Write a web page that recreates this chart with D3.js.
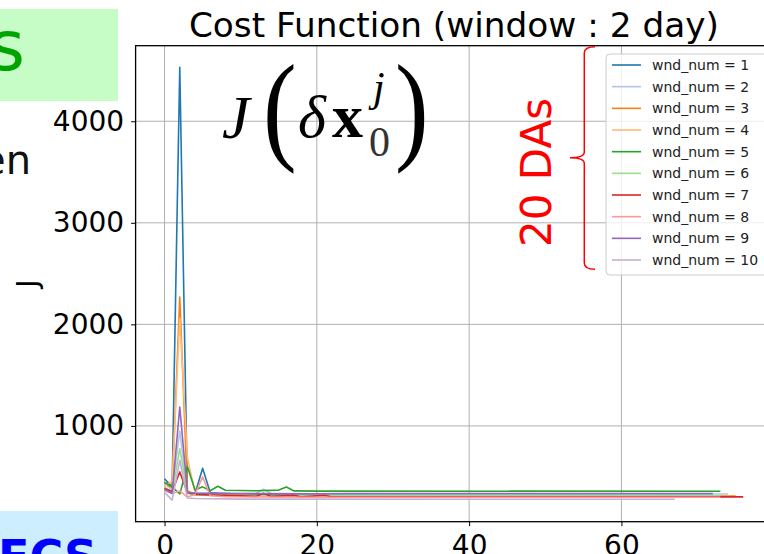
<!DOCTYPE html>
<html>
<head>
<meta charset="utf-8">
<script src="https://cdn.jsdelivr.net/npm/d3@7"></script>
<style>
    body { margin: 0; background: #fff; overflow: hidden; }
    svg { display: block; font-family: 'DejaVu Sans', sans-serif; }
</style>
</head>
<body>
<svg id="chart" width="764" height="554"></svg>
<script>
// cost J per outer-loop iteration, [iteration, J]
const wnd1 = [[0, 480], [1, 400], [2, 4531], [3, 340], [4, 330], [5, 583], [6, 345], [7, 338], [10, 330], [15, 325], [22, 321], [72, 320]]
const wnd2 = [[0, 430], [1, 370], [2, 950], [3, 345], [4, 338], [6, 335], [12, 335], [13, 376], [14, 334], [20, 331], [74, 330]]
const wnd3 = [[0, 440], [1, 390], [2, 2270], [3, 360], [4, 330], [6, 322], [10, 316], [20, 311], [75, 310]]
const wnd4 = [[0, 410], [1, 455], [2, 2060], [3, 690], [4, 345], [5, 325], [8, 312], [20, 306], [73, 305]]
const wnd5 = [[0, 445], [1, 400], [2, 330], [3, 600], [4, 370], [5, 400], [6, 362], [7, 406], [8, 366], [12, 362], [15, 368], [16, 399], [17, 360], [20, 358], [73, 357]]
const wnd6 = [[0, 400], [1, 345], [2, 777], [3, 335], [4, 320], [6, 316], [10, 313], [73, 312]]
const wnd7 = [[0, 385], [1, 355], [2, 547], [3, 345], [4, 325], [8, 316], [12, 306], [13, 337], [14, 306], [17, 316], [18, 301], [21, 317], [22, 301], [76, 301]]
const wnd8 = [[0, 365], [1, 335], [2, 360], [3, 300], [4, 325], [5, 498], [6, 312], [8, 302], [20, 298], [73, 298]]
const wnd9 = [[0, 375], [1, 335], [2, 1187], [3, 345], [4, 338], [8, 335], [20, 332], [24, 334], [72, 334]]
const wnd10 = [[0, 345], [1, 270], [2, 662], [3, 290], [4, 285], [10, 279], [67, 278]]

const seriesData = [wnd1, wnd2, wnd3, wnd4, wnd5, wnd6, wnd7, wnd8, wnd9, wnd10]
const seriesNames = seriesData.map((d, i) => `wnd_num = ${i + 1}`)
const xTicks = [0, 20, 40, 60]
const yTicks = [1000, 2000, 3000, 4000]

const colors = ['#1f77b4', '#aec7e8', '#ff7f0e', '#ffbb78', '#2ca02c',
    '#98df8a', '#d62728', '#ff9896', '#9467bd', '#c5b0d5']

const box = { left: 135.6, right: 772.2, top: 45.7, bottom: 521.7 }

const svg = d3.select('#chart')

// slide leftovers around the figure
svg.append('rect').attr('x', 0).attr('y', 9).attr('width', 118).attr('height', 92).attr('fill', '#c6fcc6')
svg.append('text').attr('x', -11).attr('y', 70).attr('font-size', 69).attr('fill', '#00a400').text('s')
svg.append('text').attr('x', 31).attr('y', 174).attr('font-size', 40).attr('text-anchor', 'end').attr('fill', '#111').text('en')
svg.append('rect').attr('x', 0).attr('y', 511).attr('width', 118).attr('height', 43).attr('fill', '#cdeeff')
svg.append('text').attr('x', -2).attr('y', 573).attr('font-size', 46).attr('font-weight', 'bold').attr('fill', '#0000ff').text('ECS')

// matplotlib style 5% margins
const allX = seriesData.flat().map(d => d[0])
const allY = seriesData.flat().map(d => d[1])
const pad = (lo, hi) => [lo - (hi - lo) * 0.05, hi + (hi - lo) * 0.05]

const x = d3.scaleLinear().domain(pad(d3.min(allX), d3.max(allX))).range([box.left, box.right])
const y = d3.scaleLinear().domain(pad(d3.min(allY), d3.max(allY))).range([box.bottom, box.top])

const g = svg.append('g')

// grid
g.selectAll('.vgrid').data(xTicks).join('line')
    .attr('x1', d => x(d)).attr('x2', d => x(d))
    .attr('y1', box.top).attr('y2', box.bottom)
    .attr('stroke', '#b0b0b0').attr('stroke-width', 1)
g.selectAll('.hgrid').data(yTicks).join('line')
    .attr('x1', box.left).attr('x2', box.right)
    .attr('y1', d => y(d)).attr('y2', d => y(d))
    .attr('stroke', '#b0b0b0').attr('stroke-width', 1)

// lines
const line = d3.line().x(d => x(d[0])).y(d => y(d[1]))
g.selectAll('.series').data(seriesData).join('path')
    .attr('d', line)
    .attr('fill', 'none')
    .attr('stroke', (d, i) => colors[i])
    .attr('stroke-width', 1.6)
    .attr('stroke-linejoin', 'round')

// axes
const xAxis = d3.axisBottom(x).tickValues(xTicks).tickSize(4.5).tickPadding(9).tickFormat(d3.format('d'))
const yAxis = d3.axisLeft(y).tickValues(yTicks).tickSize(4.5).tickPadding(7).tickFormat(d3.format('d'))

g.append('g').attr('transform', `translate(0, ${box.bottom})`).call(xAxis)
    .call(a => a.select('.domain').remove())
    .call(a => a.selectAll('text').attr('font-size', 28).attr('fill', '#000').attr('font-family', 'DejaVu Sans'))
g.append('g').attr('transform', `translate(${box.left}, 0)`).call(yAxis)
    .call(a => a.select('.domain').remove())
    .call(a => a.selectAll('text').attr('font-size', 28).attr('fill', '#000').attr('font-family', 'DejaVu Sans'))

g.append('rect')
    .attr('x', box.left).attr('y', box.top)
    .attr('width', box.right - box.left).attr('height', box.bottom - box.top)
    .attr('fill', 'none').attr('stroke', '#000').attr('stroke-width', 1.3)

// title and y label
svg.append('text')
    .attr('x', (box.left + box.right) / 2).attr('y', 37.3)
    .attr('text-anchor', 'middle').attr('font-size', 34.3)
    .text('Cost Function (window : 2 day)')
svg.append('text')
    .attr('transform', `translate(37.4, ${(box.top + box.bottom) / 2}) rotate(-90)`)
    .attr('text-anchor', 'middle').attr('font-size', 28)
    .text('J')

// legend
const legend = svg.append('g')
legend.append('rect')
    .attr('x', 606).attr('y', 54).attr('width', 170).attr('height', 221).attr('rx', 4)
    .attr('fill', '#fff').attr('fill-opacity', 0.8).attr('stroke', '#cccccc')
const rowY = d3.scaleLinear().domain([0, 9]).range([65, 260])
const rows = legend.selectAll('.row').data(seriesNames).join('g')
    .attr('transform', (d, i) => `translate(0, ${rowY(i)})`)
rows.append('line').attr('x1', 612).attr('x2', 641)
    .attr('stroke', (d, i) => colors[i]).attr('stroke-width', 1.6)
rows.append('text').attr('x', 652).attr('dy', '0.35em')
    .attr('font-size', 14).attr('fill', '#222').text(d => d)

// the formula J(δx0^j)
const math = svg.append('g').attr('font-family', "'Liberation Serif', 'DejaVu Serif', serif").attr('fill', '#000')
math.append('text').attr('x', 222).attr('y', 138).attr('font-size', 62).attr('font-style', 'italic').text('J')
math.append('text').attr('transform', 'translate(263, 148) scale(1, 1.2)').attr('font-size', 101).text('(')
math.append('text').attr('x', 298).attr('y', 137).attr('font-size', 60).attr('font-style', 'italic').text('δ')
math.append('text').attr('x', 332).attr('y', 137).attr('font-size', 62).attr('font-weight', 'bold').text('x')
math.append('text').attr('x', 373).attr('y', 101).attr('font-size', 42).attr('font-style', 'italic').text('j')
math.append('text').attr('x', 369).attr('y', 156).attr('font-size', 42).attr('fill', '#333').text('0')
math.append('text').attr('transform', 'translate(395, 148) scale(1, 1.2)').attr('font-size', 101).text(')')

// red brace and label
svg.append('path')
    .attr('d', 'M595,46.7 Q584.3,46.7 584.3,53 L584.3,152 Q584.3,157.7 570,157.7 Q584.3,157.7 584.3,163.5 L584.3,263 Q584.3,269.3 595,269.3')
    .attr('fill', 'none').attr('stroke', '#ff0000').attr('stroke-width', 1.5)
svg.append('text')
    .attr('transform', 'translate(551, 172.5) rotate(-90)')
    .attr('text-anchor', 'middle').attr('font-size', 42).attr('fill', '#ff0000')
    .text('20 DAs')
</script>
</body>
</html>
